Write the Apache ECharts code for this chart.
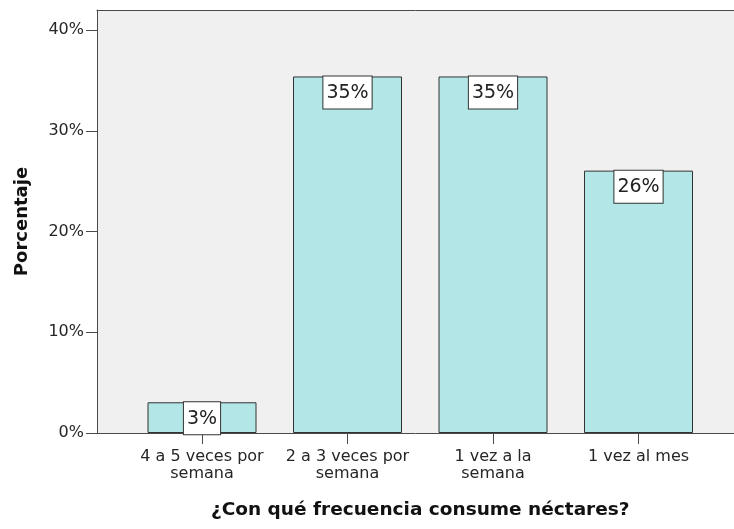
<!DOCTYPE html>
<html>
<head>
<meta charset="utf-8">
<script src="https://cdn.jsdelivr.net/npm/echarts@6/dist/echarts.min.js"></script>
<style>
  html, body { margin: 0; padding: 0; background: #ffffff; }
  #chart { width: 734px; height: 529px; }
</style>
</head>
<body>
<div id="chart"></div>
<script>
// Frequency of nectar consumption (percent of respondents)
const categories = [
  '4 a 5 veces por\nsemana',
  '2 a 3 veces por\nsemana',
  '1 vez a la\nsemana',
  '1 vez al mes'
];
const percentages = [3.05, 35.4, 35.4, 26.05];
const yTicks = [0, 10, 20, 30, 40];

const FONT = '"DejaVu Sans", Verdana, sans-serif';
const AXIS_COLOR = '#4a4a4a';
const Y_MAX = 42;

const chart = echarts.init(document.getElementById('chart'), null, { renderer: 'canvas' });

chart.setOption({
  backgroundColor: '#ffffff',
  animation: false,
  grid: [
    // grey panel carrying the percentage axis (runs past the right edge)
    { left: 97, top: 10, width: 680, bottom: 96,
      show: true, backgroundColor: '#f0f0f0', borderWidth: 0 },
    // category band for the bars
    { left: 129.25, top: 10, width: 582, bottom: 96 }
  ],
  xAxis: [
    { gridIndex: 0, type: 'value', min: 0, max: 1, position: 'bottom',
      axisLine: { show: true, onZero: false, lineStyle: { color: AXIS_COLOR, width: 1 } },
      axisTick: { show: false }, axisLabel: { show: false }, splitLine: { show: false } },
    // top edge of the panel
    { gridIndex: 0, type: 'value', min: 0, max: 1, position: 'top',
      axisLine: { show: true, onZero: false, lineStyle: { color: AXIS_COLOR, width: 1 } },
      axisTick: { show: false }, axisLabel: { show: false }, splitLine: { show: false } },
    { gridIndex: 1, type: 'category', data: categories,
      axisLine: { show: false },
      axisTick: { show: true, alignWithLabel: true, length: 11, lineStyle: { color: AXIS_COLOR } },
      axisLabel: { color: '#262626', fontFamily: FONT, fontSize: 16, lineHeight: 17, margin: 15, interval: 0 },
      name: '¿Con qué frecuencia consume néctares?',
      nameLocation: 'middle', nameGap: 68,
      nameTextStyle: { color: '#111111', fontFamily: FONT, fontSize: 18.5, fontWeight: 'bold' } }
  ],
  yAxis: [
    { gridIndex: 0, type: 'value', min: 0, max: Y_MAX, interval: 10,
      axisLine: { show: true, onZero: false, lineStyle: { color: AXIS_COLOR, width: 1 } },
      axisTick: { show: true, length: 11, lineStyle: { color: AXIS_COLOR },
        customValues: yTicks },
      axisLabel: { color: '#262626', fontFamily: FONT, fontSize: 16, margin: 13,
        customValues: yTicks, formatter: v => v + '%' },
      splitLine: { show: false },
      name: 'Porcentaje', nameLocation: 'middle', nameGap: 66, nameRotate: 90,
      nameTextStyle: { color: '#111111', fontFamily: FONT, fontSize: 18, fontWeight: 'bold' } },
    { gridIndex: 1, type: 'value', min: 0, max: Y_MAX, show: false }
  ],
  series: [{
    type: 'bar',
    xAxisIndex: 2, yAxisIndex: 1,
    data: percentages,
    barWidth: 109,
    itemStyle: { color: '#b3e6e6', borderColor: '#333333', borderWidth: 1 },
    label: {
      show: true, position: 'insideTop', distance: 0,
      formatter: p => Math.round(p.value) + '%',
      fontFamily: FONT, fontSize: 19, lineHeight: 19, color: '#222222',
      backgroundColor: '#ffffff', borderColor: '#333333', borderWidth: 1,
      padding: [7, 3, 6, 3]
    }
  }]
});
</script>
</body>
</html>
